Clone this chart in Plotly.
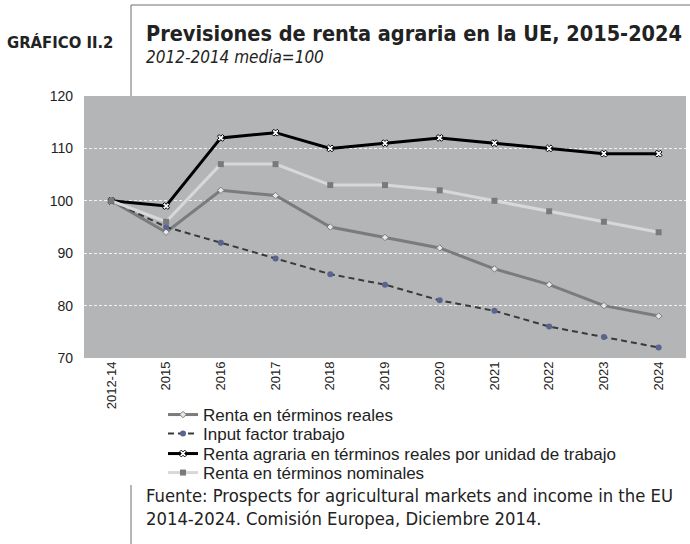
import plotly.graph_objects as go

categories = ["2012-14", "2015", "2016", "2017", "2018", "2019", "2020", "2021", "2022", "2023", "2024"]
renta_reales = [100, 94, 102, 101, 95, 93, 91, 87, 84, 80, 78]
input_trabajo = [100, 95, 92, 89, 86, 84, 81, 79, 76, 74, 72]
renta_unidad = [100, 99, 112, 113, 110, 111, 112, 111, 110, 109, 109]
renta_nominal = [100, 96, 107, 107, 103, 103, 102, 100, 98, 96, 94]
y_ticks = [70, 80, 90, 100, 110, 120]

W, H = 690, 544
L, R, T, B = 84, 686, 96, 358


def px(x):
    return (x - L) / (R - L)


def py(y):
    return (B - y) / (B - T)


COND = "DejaVu Sans Condensed, Liberation Sans Narrow, Arial"
SANS = "Liberation Sans, Arial"

fig = go.Figure()
fig.add_trace(go.Scatter(
    x=categories, y=renta_reales, name="Renta en términos reales", mode="lines+markers",
    line=dict(color="#7b7b7b", width=3), legend="legend",
    marker=dict(symbol="diamond", size=5, color="#e8e8e8", line=dict(color="#7b7b7b", width=1))))
fig.add_trace(go.Scatter(
    x=categories, y=input_trabajo, name="Input factor trabajo", mode="lines+markers",
    line=dict(color="#3a3a3a", width=2, dash="6px,4px"), legend="legend2",
    marker=dict(symbol="circle", size=6, color="#5b6390")))
fig.add_trace(go.Scatter(
    x=categories, y=renta_unidad, name="Renta agraria en términos reales por unidad de trabajo",
    mode="lines+markers", legend="legend3",
    line=dict(color="#000000", width=3),
    marker=dict(symbol="x", size=6, color="#ffffff", line=dict(color="#000000", width=1))))
fig.add_trace(go.Scatter(
    x=categories, y=renta_nominal, name="Renta en términos nominales", mode="lines+markers",
    line=dict(color="#d8d8d8", width=3), legend="legend4",
    marker=dict(symbol="square", size=6, color="#7a7a7a")))

shapes = [
    dict(type="line", xref="paper", yref="paper", x0=px(131), x1=px(690), y0=py(5), y1=py(5),
         line=dict(color="#6e6e6e", width=1)),
    dict(type="line", xref="paper", yref="paper", x0=px(131), x1=px(131), y0=py(5), y1=py(96),
         line=dict(color="#6e6e6e", width=1)),
    dict(type="line", xref="paper", yref="paper", x0=px(131), x1=px(131), y0=py(485), y1=py(544),
         line=dict(color="#6e6e6e", width=1)),
]

annotations = [
    dict(text="<b>GRÁFICO II.2</b>", xref="paper", yref="paper", x=px(5), y=py(43),
         xanchor="left", yanchor="middle", showarrow=False,
         font=dict(family=COND, size=16.5, color="#222")),
    dict(text="<b>Previsiones de renta agraria en la UE, 2015-2024</b>", xref="paper", yref="paper",
         x=px(144), y=py(33), xanchor="left", yanchor="middle", showarrow=False,
         font=dict(family=COND, size=21.5, color="#222")),
    dict(text="<i>2012-2014 media=100</i>", xref="paper", yref="paper",
         x=px(144), y=py(57), xanchor="left", yanchor="middle", showarrow=False,
         font=dict(family=COND, size=17, color="#222")),
    dict(text="Fuente: Prospects for agricultural markets and income in the EU",
         xref="paper", yref="paper", x=px(144), y=py(496), xanchor="left", yanchor="middle",
         align="left", showarrow=False,
         font=dict(family=COND, size=18.3, color="#222")),
    dict(text="2014-2024. Comisión Europea, Diciembre 2014.",
         xref="paper", yref="paper", x=px(144), y=py(518), xanchor="left", yanchor="middle",
         align="left", showarrow=False,
         font=dict(family=COND, size=18.3, color="#222")),
]

leg_common = dict(orientation="v", x=px(163), xanchor="left", yanchor="middle",
                  font=dict(size=17, color="#222", family=SANS), bgcolor="rgba(0,0,0,0)",
                  itemwidth=30, tracegroupgap=0)

fig.update_layout(
    width=W, height=H,
    margin=dict(l=L, r=W - R, t=T, b=H - B, pad=0, autoexpand=False),
    paper_bgcolor="white", plot_bgcolor="#b4b5b7",
    font=dict(family=SANS, size=13, color="#222"),
    showlegend=True,
    legend=dict(leg_common, y=py(415)),
    legend2=dict(leg_common, y=py(434)),
    legend3=dict(leg_common, y=py(454)),
    legend4=dict(leg_common, y=py(473)),
    shapes=shapes, annotations=annotations,
)
fig.update_xaxes(type="category", range=[-0.5, len(categories) - 0.5], showgrid=False,
                 tickangle=-90, tickfont=dict(size=13), ticks="", showline=False, zeroline=False)
fig.update_yaxes(range=[70, 120], tickvals=y_ticks, showgrid=True, gridcolor="#f2f2f2",
                 griddash="3px,2px", gridwidth=1, tickfont=dict(size=14), ticks="",
                 ticklabelstandoff=10, zeroline=False, showline=False)

fig.write_html("out.html", config={"displayModeBar": False},
               post_script="document.body.style.margin='0';")
